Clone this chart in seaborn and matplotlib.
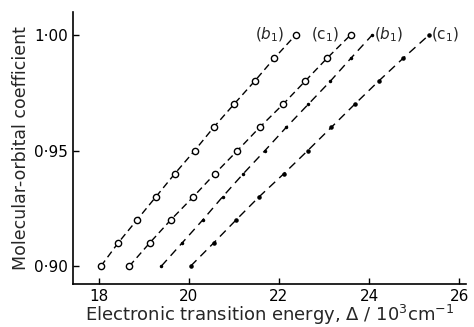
import matplotlib
matplotlib.use('Agg')
import numpy as np
import pandas as pd
from matplotlib import pyplot as plt
import seaborn as sns

# values
coef = [0.90, 0.91, 0.92, 0.93, 0.94, 0.95, 0.96, 0.97, 0.98, 0.99, 1.00]
b1_open = [18.05, 18.43, 18.85, 19.27, 19.69, 20.13, 20.55, 21.00, 21.46, 21.90, 22.37]
c1_open = [18.68, 19.13, 19.60, 20.10, 20.58, 21.08, 21.57, 22.09, 22.58, 23.07, 23.59]
b1_dot = [19.39, 19.85, 20.31, 20.75, 21.21, 21.69, 22.16, 22.65, 23.14, 23.60, 24.07]
c1_dot = [20.04, 20.55, 21.05, 21.56, 22.11, 22.64, 23.16, 23.68, 24.21, 24.76, 25.33]

x_ticks = [18, 20, 22, 24, 26]
y_ticks = [0.90, 0.95, 1.00]
y_ticklabels = ['0·90', '0·95', '1·00']

sns.set_style('ticks')
plt.rcParams['font.family'] = ['DejaVu Sans']

fig = plt.figure(figsize=(4.74, 3.27), dpi=100)
ax = fig.add_axes([0.154, 0.131, 0.829, 0.832])

series = [
    (b1_open, 'o', 4.5, 'white', (5, 3)),
    (c1_open, 'o', 4.5, 'white', (5, 3)),
    (b1_dot, '.', 3.0, 'black', (6, 4)),
    (c1_dot, '.', 4.5, 'black', (6, 4)),
]
for xs, mk, ms, fc, dash in series:
    df = pd.DataFrame({'energy': xs, 'coef': coef})
    sns.lineplot(data=df, x='energy', y='coef', ax=ax, color='black',
                 linewidth=1.0, marker=mk, markersize=ms,
                 markerfacecolor=fc, markeredgecolor='black',
                 markeredgewidth=1.0, dashes=False, linestyle=(0, dash),
                 sort=False, estimator=None)

# curve labels
ax.text(b1_open[-1] - 0.25, 1.0, r'$(b_1)$', ha='right', va='center', fontsize=11)
ax.text(c1_open[-1] - 0.25, 1.0, r'$(\mathrm{c}_1)$', ha='right', va='center', fontsize=11)
ax.text(b1_dot[-1] + 0.05, 1.0, r'$(b_1)$', ha='left', va='center', fontsize=11)
ax.text(c1_dot[-1] + 0.05, 1.0, r'$(\mathrm{c}_1)$', ha='left', va='center', fontsize=11)

ax.set_xlim(17.43, 26.15)
ax.set_ylim(0.8922, 1.0099)
ax.set_xticks(x_ticks)
ax.set_yticks(y_ticks)
ax.set_yticklabels(y_ticklabels)
ax.tick_params(direction='in', length=4, width=1, labelsize=11, colors='black')
ax.set_xlabel(r'Electronic transition energy, $\Delta$ / 10$^3$cm$^{-1}$',
              fontsize=13, labelpad=-1)
ax.set_ylabel('Molecular-orbital coefficient', fontsize=12.5, labelpad=3)
sns.despine(ax=ax)
for s in ['left', 'bottom']:
    ax.spines[s].set_linewidth(1.2)
    ax.spines[s].set_color('black')

fig.savefig('out.png', dpi=100)
